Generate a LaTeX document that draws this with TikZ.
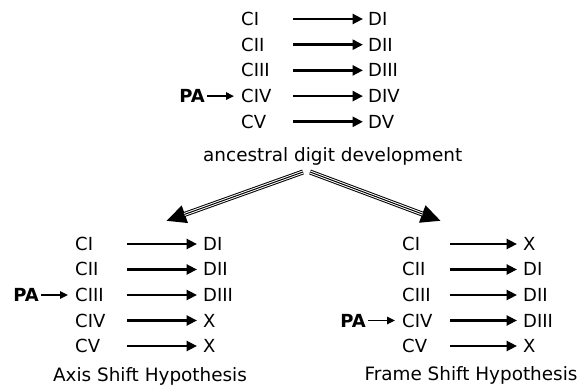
\documentclass[tikz,border=0pt]{standalone}
\usepackage{fontspec}
\setmainfont{DejaVu Sans}
\usetikzlibrary{arrows.meta}
\begin{document}
\begin{tikzpicture}[x=1pt,y=-1pt,
  lbl/.style={anchor=west, inner sep=0pt, text height=13pt, text depth=0pt,
    font=\fontsize{18}{21}\selectfont},
  pa/.style={lbl, anchor=east, font=\fontsize{18}{21}\selectfont\bfseries},
  captxt/.style={inner sep=0pt, font=\fontsize{18.4}{22}\selectfont},
  arr/.style={line width=2.6pt, -{Triangle[length=10.5pt,width=10pt]}},
  paarr/.style={line width=1.6pt, shorten <=2pt, shorten >=7pt,
    -{Triangle[length=8pt,width=7.5pt]}},
  bigtip/.style={line width=5pt, -{Triangle[length=20pt,width=17pt]}},
  gap/.style={white, line width=3pt, shorten >=19.5pt},
  mid/.style={line width=1pt, shorten >=19.5pt}]
\useasboundingbox (0,0) rectangle (584,390);

% ancestral pattern
\coordinate (tS) at (293,0);
\coordinate (tE) at (363,0);
\foreach \c/\d [count=\k] in {CI/DI,CII/DII,CIII/DIII,CIV/DIV,CV/DV} {
  \node[lbl] (tc\k) at (241,{19+25.7*(\k-1)}) {\c};
  \node[lbl] (td\k) at (368,{19+25.7*(\k-1)}) {\d};
  \draw[arr] (tc\k -| tS) -- (td\k -| tE);
}
\node[pa] (tpa) at ([xshift=-36pt]tc4.west) {PA};
\node[captxt, anchor=base west] (anc) at (203,162) {ancestral digit development};

% axis shift
\coordinate (lS) at (127,0);
\coordinate (lE) at (197,0);
\foreach \c/\d [count=\k] in {CI/DI,CII/DII,CIII/DIII,CIV/X,CV/X} {
  \node[lbl] (lc\k) at (75,{244+25.5*(\k-1)}) {\c};
  \node[lbl] (ld\k) at (203,{244+25.5*(\k-1)}) {\d};
  \draw[arr] (lc\k -| lS) -- (ld\k -| lE);
}
\node[pa] (lpa) at ([xshift=-36pt]lc3.west) {PA};
\node[captxt, anchor=base] (axis) at (150,381) {Axis Shift Hypothesis};

% frame shift
\coordinate (rS) at (450,0);
\coordinate (rE) at (517,0);
\foreach \c/\d [count=\k] in {CI/X,CII/DI,CIII/DII,CIV/DIII,CV/X} {
  \node[lbl] (rc\k) at (402,{244+25.5*(\k-1)}) {\c};
  \node[lbl] (rd\k) at (523,{244+25.5*(\k-1)}) {\d};
  \draw[arr] (rc\k -| rS) -- (rd\k -| rE);
}
\node[pa] (rpa) at ([xshift=-36pt]rc4.west) {PA};
\node[captxt, anchor=base] (frame) at (471,380) {Frame Shift Hypothesis};

% PA markers
\draw[paarr] (tpa.east) -- (tc4.west);
\draw[paarr] (lpa.east) -- (lc3.west);
\draw[paarr] (rpa.east) -- (rc4.west);

% branching triple-line arrows
\coordinate (aL) at (303,172);
\coordinate (aR) at (310,172);
\coordinate (axTop) at (166,221);
\coordinate (frTop) at (441,221);
\foreach \s/\t in {aL/axTop,aR/frTop} {
  \draw[bigtip] (\s) -- (\t);
  \draw[gap] (\s) -- (\t);
  \draw[mid] (\s) -- (\t);
}
\end{tikzpicture}
\end{document}
